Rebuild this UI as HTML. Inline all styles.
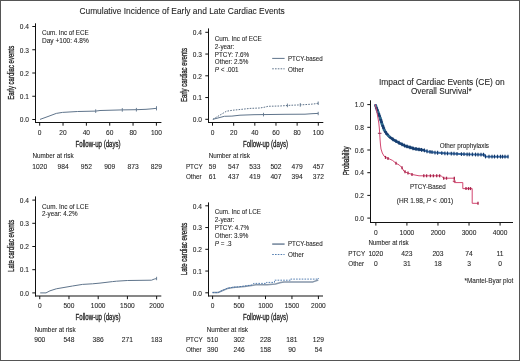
<!DOCTYPE html>
<html><head><meta charset="utf-8"><style>
html,body{margin:0;padding:0;background:#fff;}
svg{display:block;font-family:"Liberation Sans", sans-serif;will-change:transform;}
text{stroke:#222;stroke-width:0.08px;}
text.m{stroke-width:0.3px;font-weight:normal;}
</style></head><body>
<svg width="520" height="361" viewBox="0 0 520 361">
<rect x="0" y="0" width="520" height="361" fill="#fff"/>
<rect x="0.5" y="0.5" width="519" height="360" fill="none" stroke="#555" stroke-width="1"/>
<text x="79.40" y="14.00" font-size="8.4" fill="#262626" textLength="205.4" lengthAdjust="spacingAndGlyphs">Cumulative Incidence of Early and Late Cardiac Events</text>
<line x1="35.50" y1="23.30" x2="35.50" y2="123.00" stroke="#111" stroke-width="1.05"/>
<line x1="32.30" y1="119.50" x2="35.50" y2="119.50" stroke="#111" stroke-width="1.0"/>
<text x="28.90" y="122.25" font-size="6.6" fill="#262626" text-anchor="end">0.0</text>
<line x1="32.30" y1="96.25" x2="35.50" y2="96.25" stroke="#111" stroke-width="1.0"/>
<text x="28.90" y="99.00" font-size="6.6" fill="#262626" text-anchor="end">0.1</text>
<line x1="32.30" y1="73.00" x2="35.50" y2="73.00" stroke="#111" stroke-width="1.0"/>
<text x="28.90" y="75.75" font-size="6.6" fill="#262626" text-anchor="end">0.2</text>
<line x1="32.30" y1="49.75" x2="35.50" y2="49.75" stroke="#111" stroke-width="1.0"/>
<text x="28.90" y="52.50" font-size="6.6" fill="#262626" text-anchor="end">0.3</text>
<line x1="32.30" y1="26.50" x2="35.50" y2="26.50" stroke="#111" stroke-width="1.0"/>
<text x="28.90" y="29.25" font-size="6.6" fill="#262626" text-anchor="end">0.4</text>
<line x1="35.00" y1="122.50" x2="161.40" y2="122.50" stroke="#111" stroke-width="1.05"/>
<line x1="39.70" y1="122.50" x2="39.70" y2="125.70" stroke="#111" stroke-width="1.0"/>
<text x="39.70" y="135.00" font-size="6.6" fill="#262626" text-anchor="middle">0</text>
<line x1="63.04" y1="122.50" x2="63.04" y2="125.70" stroke="#111" stroke-width="1.0"/>
<text x="63.04" y="135.00" font-size="6.6" fill="#262626" text-anchor="middle">20</text>
<line x1="86.38" y1="122.50" x2="86.38" y2="125.70" stroke="#111" stroke-width="1.0"/>
<text x="86.38" y="135.00" font-size="6.6" fill="#262626" text-anchor="middle">40</text>
<line x1="109.72" y1="122.50" x2="109.72" y2="125.70" stroke="#111" stroke-width="1.0"/>
<text x="109.72" y="135.00" font-size="6.6" fill="#262626" text-anchor="middle">60</text>
<line x1="133.06" y1="122.50" x2="133.06" y2="125.70" stroke="#111" stroke-width="1.0"/>
<text x="133.06" y="135.00" font-size="6.6" fill="#262626" text-anchor="middle">80</text>
<line x1="156.40" y1="122.50" x2="156.40" y2="125.70" stroke="#111" stroke-width="1.0"/>
<text x="156.40" y="135.00" font-size="6.6" fill="#262626" text-anchor="middle">100</text>
<text x="42.00" y="35.00" font-size="6.3" fill="#262626" textLength="46.7" lengthAdjust="spacingAndGlyphs">Cum. Inc of ECE</text>
<text x="42.00" y="42.80" font-size="6.3" fill="#262626" textLength="46.7" lengthAdjust="spacingAndGlyphs">Day +100: 4.8%</text>
<text x="98.05" y="147.00" font-size="8.6" fill="#262626" text-anchor="middle" textLength="45" lengthAdjust="spacingAndGlyphs" class="m">Follow-up (days)</text>
<text x="32.40" y="158.20" font-size="6.3" fill="#262626" textLength="41.2" lengthAdjust="spacingAndGlyphs">Number at risk</text>
<text x="39.70" y="168.70" font-size="6.7" fill="#262626" text-anchor="middle">1020</text>
<text x="63.04" y="168.70" font-size="6.7" fill="#262626" text-anchor="middle">984</text>
<text x="86.38" y="168.70" font-size="6.7" fill="#262626" text-anchor="middle">952</text>
<text x="109.72" y="168.70" font-size="6.7" fill="#262626" text-anchor="middle">909</text>
<text x="133.06" y="168.70" font-size="6.7" fill="#262626" text-anchor="middle">873</text>
<text x="156.40" y="168.70" font-size="6.7" fill="#262626" text-anchor="middle">829</text>
<text class="m" transform="translate(13.7,72.75) rotate(-90)" font-size="8.4" fill="#262626" text-anchor="middle" textLength="54" lengthAdjust="spacingAndGlyphs">Early cardiac events</text>
<path d="M40.00,119.40 L48.00,116.50 L56.30,113.40 L62.50,112.40 L77.50,111.50 L95.70,111.10 L100.00,110.50 L122.30,109.90 L136.40,109.70 L146.00,109.30 L152.00,108.80 L156.50,108.30" fill="none" stroke="#5f748b" stroke-width="1.0" stroke-linejoin="round"/>
<line x1="95.70" y1="109.30" x2="95.70" y2="112.90" stroke="#5f748b" stroke-width="0.9"/>
<line x1="122.30" y1="108.10" x2="122.30" y2="111.70" stroke="#5f748b" stroke-width="0.9"/>
<line x1="136.40" y1="107.90" x2="136.40" y2="111.50" stroke="#5f748b" stroke-width="0.9"/>
<line x1="156.50" y1="106.20" x2="156.50" y2="110.40" stroke="#5f748b" stroke-width="0.9"/>
<line x1="208.50" y1="28.40" x2="208.50" y2="123.00" stroke="#111" stroke-width="1.05"/>
<line x1="205.30" y1="119.30" x2="208.50" y2="119.30" stroke="#111" stroke-width="1.0"/>
<text x="201.90" y="122.05" font-size="6.6" fill="#262626" text-anchor="end">0.0</text>
<line x1="205.30" y1="97.55" x2="208.50" y2="97.55" stroke="#111" stroke-width="1.0"/>
<text x="201.90" y="100.30" font-size="6.6" fill="#262626" text-anchor="end">0.1</text>
<line x1="205.30" y1="75.80" x2="208.50" y2="75.80" stroke="#111" stroke-width="1.0"/>
<text x="201.90" y="78.55" font-size="6.6" fill="#262626" text-anchor="end">0.2</text>
<line x1="205.30" y1="54.05" x2="208.50" y2="54.05" stroke="#111" stroke-width="1.0"/>
<text x="201.90" y="56.80" font-size="6.6" fill="#262626" text-anchor="end">0.3</text>
<line x1="205.30" y1="32.30" x2="208.50" y2="32.30" stroke="#111" stroke-width="1.0"/>
<text x="201.90" y="35.05" font-size="6.6" fill="#262626" text-anchor="end">0.4</text>
<line x1="208.00" y1="122.50" x2="323.30" y2="122.50" stroke="#111" stroke-width="1.05"/>
<line x1="212.50" y1="122.50" x2="212.50" y2="125.70" stroke="#111" stroke-width="1.0"/>
<text x="212.50" y="134.70" font-size="6.6" fill="#262626" text-anchor="middle">0</text>
<line x1="233.66" y1="122.50" x2="233.66" y2="125.70" stroke="#111" stroke-width="1.0"/>
<text x="233.66" y="134.70" font-size="6.6" fill="#262626" text-anchor="middle">20</text>
<line x1="254.82" y1="122.50" x2="254.82" y2="125.70" stroke="#111" stroke-width="1.0"/>
<text x="254.82" y="134.70" font-size="6.6" fill="#262626" text-anchor="middle">40</text>
<line x1="275.98" y1="122.50" x2="275.98" y2="125.70" stroke="#111" stroke-width="1.0"/>
<text x="275.98" y="134.70" font-size="6.6" fill="#262626" text-anchor="middle">60</text>
<line x1="297.14" y1="122.50" x2="297.14" y2="125.70" stroke="#111" stroke-width="1.0"/>
<text x="297.14" y="134.70" font-size="6.6" fill="#262626" text-anchor="middle">80</text>
<line x1="318.30" y1="122.50" x2="318.30" y2="125.70" stroke="#111" stroke-width="1.0"/>
<text x="318.30" y="134.70" font-size="6.6" fill="#262626" text-anchor="middle">100</text>
<text x="214.80" y="41.00" font-size="6.3" fill="#262626">Cum. Inc of ECE</text>
<text x="214.80" y="48.75" font-size="6.3" fill="#262626">2-year:</text>
<text x="214.80" y="56.50" font-size="6.3" fill="#262626">PTCY: 7.6%</text>
<text x="214.80" y="64.25" font-size="6.3" fill="#262626">Other: 2.5%</text>
<text x="214.8" y="72.00" font-size="6.3" fill="#262626"><tspan font-style="italic">P</tspan> &lt; .001</text>
<text x="288.00" y="60.60" font-size="6.3" fill="#262626" textLength="34.7" lengthAdjust="spacingAndGlyphs">PTCY-based</text>
<text x="288.00" y="71.60" font-size="6.3" fill="#262626">Other</text>
<line x1="272.20" y1="58.40" x2="284.60" y2="58.40" stroke="#5f748b" stroke-width="1"/>
<line x1="272.20" y1="68.80" x2="284.60" y2="68.80" stroke="#5f748b" stroke-width="1" stroke-dasharray="1.6,1.2"/>
<text x="265.50" y="146.90" font-size="8.6" fill="#262626" text-anchor="middle" textLength="45" lengthAdjust="spacingAndGlyphs" class="m">Follow-up (days)</text>
<text x="208.70" y="158.20" font-size="6.3" fill="#262626" textLength="41.2" lengthAdjust="spacingAndGlyphs">Number at risk</text>
<text x="185.90" y="168.60" font-size="6.3" fill="#262626">PTCY</text>
<text x="185.90" y="179.00" font-size="6.3" fill="#262626">Other</text>
<text x="212.50" y="168.60" font-size="6.7" fill="#262626" text-anchor="middle">59</text>
<text x="212.50" y="179.00" font-size="6.7" fill="#262626" text-anchor="middle">61</text>
<text x="233.66" y="168.60" font-size="6.7" fill="#262626" text-anchor="middle">547</text>
<text x="233.66" y="179.00" font-size="6.7" fill="#262626" text-anchor="middle">437</text>
<text x="254.82" y="168.60" font-size="6.7" fill="#262626" text-anchor="middle">533</text>
<text x="254.82" y="179.00" font-size="6.7" fill="#262626" text-anchor="middle">419</text>
<text x="275.98" y="168.60" font-size="6.7" fill="#262626" text-anchor="middle">502</text>
<text x="275.98" y="179.00" font-size="6.7" fill="#262626" text-anchor="middle">407</text>
<text x="297.14" y="168.60" font-size="6.7" fill="#262626" text-anchor="middle">479</text>
<text x="297.14" y="179.00" font-size="6.7" fill="#262626" text-anchor="middle">394</text>
<text x="318.30" y="168.60" font-size="6.7" fill="#262626" text-anchor="middle">457</text>
<text x="318.30" y="179.00" font-size="6.7" fill="#262626" text-anchor="middle">372</text>
<text class="m" transform="translate(186.9,75.05) rotate(-90)" font-size="8.4" fill="#262626" text-anchor="middle" textLength="54" lengthAdjust="spacingAndGlyphs">Early cardiac events</text>
<path d="M212.90,119.30 L224.40,116.30 L231.90,116.10 L240.00,115.20 L254.00,114.70 L270.00,114.50 L285.00,114.30 L305.00,114.20 L312.00,113.70 L318.20,113.40" fill="none" stroke="#5f748b" stroke-width="1.0" stroke-linejoin="round"/>
<path d="M212.90,119.30 L226.50,111.20 L233.10,110.20 L240.00,109.50 L250.00,108.40 L260.00,108.00 L265.00,107.10 L268.00,106.30 L280.00,106.00 L290.00,105.30 L300.00,104.90 L310.00,104.30 L315.00,103.80 L318.20,103.20" fill="none" stroke="#5f748b" stroke-width="1.0" stroke-linejoin="round" stroke-dasharray="1.6,1.2"/>
<line x1="263.50" y1="112.80" x2="263.50" y2="116.40" stroke="#5f748b" stroke-width="0.9"/>
<line x1="287.40" y1="103.60" x2="287.40" y2="107.20" stroke="#5f748b" stroke-width="0.9"/>
<line x1="300.30" y1="103.10" x2="300.30" y2="106.70" stroke="#5f748b" stroke-width="0.9"/>
<line x1="318.20" y1="101.50" x2="318.20" y2="105.00" stroke="#5f748b" stroke-width="0.9"/>
<line x1="318.20" y1="111.80" x2="318.20" y2="115.20" stroke="#5f748b" stroke-width="0.9"/>
<line x1="35.50" y1="196.40" x2="35.50" y2="296.50" stroke="#111" stroke-width="1.05"/>
<line x1="32.30" y1="292.90" x2="35.50" y2="292.90" stroke="#111" stroke-width="1.0"/>
<text x="28.90" y="295.65" font-size="6.6" fill="#262626" text-anchor="end">0.0</text>
<line x1="32.30" y1="269.70" x2="35.50" y2="269.70" stroke="#111" stroke-width="1.0"/>
<text x="28.90" y="272.45" font-size="6.6" fill="#262626" text-anchor="end">0.1</text>
<line x1="32.30" y1="246.50" x2="35.50" y2="246.50" stroke="#111" stroke-width="1.0"/>
<text x="28.90" y="249.25" font-size="6.6" fill="#262626" text-anchor="end">0.2</text>
<line x1="32.30" y1="223.30" x2="35.50" y2="223.30" stroke="#111" stroke-width="1.0"/>
<text x="28.90" y="226.05" font-size="6.6" fill="#262626" text-anchor="end">0.3</text>
<line x1="32.30" y1="200.10" x2="35.50" y2="200.10" stroke="#111" stroke-width="1.0"/>
<text x="28.90" y="202.85" font-size="6.6" fill="#262626" text-anchor="end">0.4</text>
<line x1="35.00" y1="296.00" x2="161.30" y2="296.00" stroke="#111" stroke-width="1.05"/>
<line x1="39.75" y1="296.00" x2="39.75" y2="299.20" stroke="#111" stroke-width="1.0"/>
<text x="39.75" y="307.90" font-size="6.6" fill="#262626" text-anchor="middle">0</text>
<line x1="68.97" y1="296.00" x2="68.97" y2="299.20" stroke="#111" stroke-width="1.0"/>
<text x="68.97" y="307.90" font-size="6.6" fill="#262626" text-anchor="middle">500</text>
<line x1="98.20" y1="296.00" x2="98.20" y2="299.20" stroke="#111" stroke-width="1.0"/>
<text x="98.20" y="307.90" font-size="6.6" fill="#262626" text-anchor="middle">1000</text>
<line x1="127.42" y1="296.00" x2="127.42" y2="299.20" stroke="#111" stroke-width="1.0"/>
<text x="127.42" y="307.90" font-size="6.6" fill="#262626" text-anchor="middle">1500</text>
<line x1="156.65" y1="296.00" x2="156.65" y2="299.20" stroke="#111" stroke-width="1.0"/>
<text x="156.65" y="307.90" font-size="6.6" fill="#262626" text-anchor="middle">2000</text>
<text x="42.00" y="208.50" font-size="6.3" fill="#262626" textLength="46.7" lengthAdjust="spacingAndGlyphs">Cum. Inc of LCE</text>
<text x="42.00" y="215.80" font-size="6.3" fill="#262626">2-year: 4.2%</text>
<text x="98.05" y="319.90" font-size="8.6" fill="#262626" text-anchor="middle" textLength="45" lengthAdjust="spacingAndGlyphs" class="m">Follow-up (days)</text>
<text x="34.50" y="331.60" font-size="6.3" fill="#262626" textLength="41.2" lengthAdjust="spacingAndGlyphs">Number at risk</text>
<text x="39.75" y="341.80" font-size="6.7" fill="#262626" text-anchor="middle">900</text>
<text x="68.97" y="341.80" font-size="6.7" fill="#262626" text-anchor="middle">548</text>
<text x="98.20" y="341.80" font-size="6.7" fill="#262626" text-anchor="middle">386</text>
<text x="127.42" y="341.80" font-size="6.7" fill="#262626" text-anchor="middle">271</text>
<text x="156.65" y="341.80" font-size="6.7" fill="#262626" text-anchor="middle">183</text>
<text class="m" transform="translate(13.7,245.8) rotate(-90)" font-size="8.4" fill="#262626" text-anchor="middle" textLength="52.2" lengthAdjust="spacingAndGlyphs">Late cardiac events</text>
<path d="M40.20,292.90 L46.00,292.90 L50.00,290.80 L56.30,288.80 L65.00,287.30 L72.50,286.00 L82.50,284.40 L92.50,283.80 L100.00,283.10 L112.50,281.60 L116.50,281.20 L127.30,280.50 L151.50,280.20 L154.20,279.10 L156.60,278.50" fill="none" stroke="#5f748b" stroke-width="1.0" stroke-linejoin="round"/>
<line x1="156.60" y1="276.80" x2="156.60" y2="280.20" stroke="#5f748b" stroke-width="0.9"/>
<line x1="208.50" y1="202.40" x2="208.50" y2="296.40" stroke="#111" stroke-width="1.05"/>
<line x1="205.30" y1="292.80" x2="208.50" y2="292.80" stroke="#111" stroke-width="1.0"/>
<text x="201.90" y="295.55" font-size="6.6" fill="#262626" text-anchor="end">0.0</text>
<line x1="205.30" y1="271.05" x2="208.50" y2="271.05" stroke="#111" stroke-width="1.0"/>
<text x="201.90" y="273.80" font-size="6.6" fill="#262626" text-anchor="end">0.1</text>
<line x1="205.30" y1="249.30" x2="208.50" y2="249.30" stroke="#111" stroke-width="1.0"/>
<text x="201.90" y="252.05" font-size="6.6" fill="#262626" text-anchor="end">0.2</text>
<line x1="205.30" y1="227.55" x2="208.50" y2="227.55" stroke="#111" stroke-width="1.0"/>
<text x="201.90" y="230.30" font-size="6.6" fill="#262626" text-anchor="end">0.3</text>
<line x1="205.30" y1="205.80" x2="208.50" y2="205.80" stroke="#111" stroke-width="1.0"/>
<text x="201.90" y="208.55" font-size="6.6" fill="#262626" text-anchor="end">0.4</text>
<line x1="208.00" y1="295.90" x2="323.00" y2="295.90" stroke="#111" stroke-width="1.05"/>
<line x1="212.60" y1="295.90" x2="212.60" y2="299.10" stroke="#111" stroke-width="1.0"/>
<text x="212.60" y="308.00" font-size="6.6" fill="#262626" text-anchor="middle">0</text>
<line x1="239.05" y1="295.90" x2="239.05" y2="299.10" stroke="#111" stroke-width="1.0"/>
<text x="239.05" y="308.00" font-size="6.6" fill="#262626" text-anchor="middle">500</text>
<line x1="265.50" y1="295.90" x2="265.50" y2="299.10" stroke="#111" stroke-width="1.0"/>
<text x="265.50" y="308.00" font-size="6.6" fill="#262626" text-anchor="middle">1000</text>
<line x1="291.95" y1="295.90" x2="291.95" y2="299.10" stroke="#111" stroke-width="1.0"/>
<text x="291.95" y="308.00" font-size="6.6" fill="#262626" text-anchor="middle">1500</text>
<line x1="318.40" y1="295.90" x2="318.40" y2="299.10" stroke="#111" stroke-width="1.0"/>
<text x="318.40" y="308.00" font-size="6.6" fill="#262626" text-anchor="middle">2000</text>
<text x="214.80" y="214.40" font-size="6.3" fill="#262626">Cum. Inc of LCE</text>
<text x="214.80" y="222.20" font-size="6.3" fill="#262626">2-year:</text>
<text x="214.80" y="230.00" font-size="6.3" fill="#262626">PTCY: 4.7%</text>
<text x="214.80" y="237.80" font-size="6.3" fill="#262626">Other: 3.9%</text>
<text x="214.8" y="245.90" font-size="6.3" fill="#262626"><tspan font-style="italic">P</tspan> = .3</text>
<line x1="272.20" y1="244.10" x2="284.60" y2="244.10" stroke="#8797aa" stroke-width="1.8"/>
<line x1="272.20" y1="254.50" x2="284.60" y2="254.50" stroke="#3f6fa8" stroke-width="0.9" stroke-dasharray="1.6,1.2"/>
<text x="288.00" y="246.00" font-size="6.3" fill="#262626" textLength="34.7" lengthAdjust="spacingAndGlyphs">PTCY-based</text>
<text x="288.00" y="256.90" font-size="6.3" fill="#262626">Other</text>
<text x="265.50" y="319.80" font-size="8.6" fill="#262626" text-anchor="middle" textLength="45" lengthAdjust="spacingAndGlyphs" class="m">Follow-up (days)</text>
<text x="206.80" y="331.80" font-size="6.3" fill="#262626" textLength="41.2" lengthAdjust="spacingAndGlyphs">Number at risk</text>
<text x="185.90" y="342.20" font-size="6.3" fill="#262626">PTCY</text>
<text x="185.90" y="352.40" font-size="6.3" fill="#262626">Other</text>
<text x="212.60" y="342.20" font-size="6.7" fill="#262626" text-anchor="middle">510</text>
<text x="212.60" y="352.40" font-size="6.7" fill="#262626" text-anchor="middle">390</text>
<text x="239.05" y="342.20" font-size="6.7" fill="#262626" text-anchor="middle">302</text>
<text x="239.05" y="352.40" font-size="6.7" fill="#262626" text-anchor="middle">246</text>
<text x="265.50" y="342.20" font-size="6.7" fill="#262626" text-anchor="middle">228</text>
<text x="265.50" y="352.40" font-size="6.7" fill="#262626" text-anchor="middle">158</text>
<text x="291.95" y="342.20" font-size="6.7" fill="#262626" text-anchor="middle">181</text>
<text x="291.95" y="352.40" font-size="6.7" fill="#262626" text-anchor="middle">90</text>
<text x="318.40" y="342.20" font-size="6.7" fill="#262626" text-anchor="middle">129</text>
<text x="318.40" y="352.40" font-size="6.7" fill="#262626" text-anchor="middle">54</text>
<text class="m" transform="translate(187.0,248.95) rotate(-90)" font-size="8.4" fill="#262626" text-anchor="middle" textLength="52.4" lengthAdjust="spacingAndGlyphs">Late cardiac events</text>
<path d="M212.50,292.60 L218.00,292.60 L222.00,290.80 L227.30,288.60 L233.00,287.50 L238.80,287.10 L244.60,286.40 L251.50,285.50 L256.00,284.80 L267.00,284.70 L275.40,283.90 L280.80,282.60 L284.00,281.90 L313.00,281.90 L318.30,280.00" fill="none" stroke="#8797aa" stroke-width="1.5" stroke-linejoin="round"/>
<path d="M212.50,292.60 L218.00,292.60 L222.00,290.60 L227.30,288.30 L233.00,287.20 L238.80,286.80 L244.60,286.00 L251.50,285.00 L253.80,283.40 L266.50,283.40 L266.50,282.40 L274.50,282.40 L274.50,280.20 L290.60,280.20 L290.60,279.10 L318.30,279.10 L318.30,278.00" fill="none" stroke="#3f6fa8" stroke-width="0.9" stroke-linejoin="round" stroke-dasharray="1.6,1.2"/>
<line x1="370.50" y1="100.30" x2="370.50" y2="222.90" stroke="#111" stroke-width="1.05"/>
<line x1="367.30" y1="218.10" x2="370.50" y2="218.10" stroke="#111" stroke-width="1.0"/>
<text x="363.90" y="220.85" font-size="6.6" fill="#262626" text-anchor="end">0.0</text>
<line x1="367.30" y1="195.40" x2="370.50" y2="195.40" stroke="#111" stroke-width="1.0"/>
<text x="363.90" y="198.15" font-size="6.6" fill="#262626" text-anchor="end">0.2</text>
<line x1="367.30" y1="172.70" x2="370.50" y2="172.70" stroke="#111" stroke-width="1.0"/>
<text x="363.90" y="175.45" font-size="6.6" fill="#262626" text-anchor="end">0.4</text>
<line x1="367.30" y1="150.00" x2="370.50" y2="150.00" stroke="#111" stroke-width="1.0"/>
<text x="363.90" y="152.75" font-size="6.6" fill="#262626" text-anchor="end">0.6</text>
<line x1="367.30" y1="127.30" x2="370.50" y2="127.30" stroke="#111" stroke-width="1.0"/>
<text x="363.90" y="130.05" font-size="6.6" fill="#262626" text-anchor="end">0.8</text>
<line x1="367.30" y1="104.60" x2="370.50" y2="104.60" stroke="#111" stroke-width="1.0"/>
<text x="363.90" y="107.35" font-size="6.6" fill="#262626" text-anchor="end">1.0</text>
<line x1="370.00" y1="222.40" x2="513.00" y2="222.40" stroke="#111" stroke-width="1.05"/>
<line x1="375.85" y1="222.40" x2="375.85" y2="225.60" stroke="#111" stroke-width="1.0"/>
<text x="375.85" y="234.80" font-size="6.6" fill="#262626" text-anchor="middle">0</text>
<line x1="406.91" y1="222.40" x2="406.91" y2="225.60" stroke="#111" stroke-width="1.0"/>
<text x="406.91" y="234.80" font-size="6.6" fill="#262626" text-anchor="middle">1000</text>
<line x1="437.97" y1="222.40" x2="437.97" y2="225.60" stroke="#111" stroke-width="1.0"/>
<text x="437.97" y="234.80" font-size="6.6" fill="#262626" text-anchor="middle">2000</text>
<line x1="469.03" y1="222.40" x2="469.03" y2="225.60" stroke="#111" stroke-width="1.0"/>
<text x="469.03" y="234.80" font-size="6.6" fill="#262626" text-anchor="middle">3000</text>
<line x1="500.09" y1="222.40" x2="500.09" y2="225.60" stroke="#111" stroke-width="1.0"/>
<text x="500.09" y="234.80" font-size="6.6" fill="#262626" text-anchor="middle">4000</text>
<text x="441.80" y="84.50" font-size="8.4" fill="#262626" text-anchor="middle" textLength="125.6" lengthAdjust="spacingAndGlyphs">Impact of Cardiac Events (CE) on</text>
<text x="441.30" y="94.40" font-size="8.4" fill="#262626" text-anchor="middle" textLength="60.7" lengthAdjust="spacingAndGlyphs">Overall Survival*</text>
<text class="m" transform="translate(349.2,160.8) rotate(-90)" font-size="8.4" fill="#262626" text-anchor="middle" textLength="29" lengthAdjust="spacingAndGlyphs">Probability</text>
<text x="439.70" y="148.20" font-size="6.3" fill="#262626" textLength="49.3" lengthAdjust="spacingAndGlyphs">Other prophylaxis</text>
<text x="409.90" y="189.10" font-size="6.3" fill="#262626" textLength="35.8" lengthAdjust="spacingAndGlyphs">PTCY-Based</text>
<text x="396.8" y="203.3" font-size="6.3" fill="#262626" textLength="56.5" lengthAdjust="spacingAndGlyphs">(HR 1.98, <tspan font-style="italic">P</tspan> &lt; .001)</text>
<text x="368.40" y="245.10" font-size="6.3" fill="#262626" textLength="40.3" lengthAdjust="spacingAndGlyphs">Number at risk</text>
<text x="348.30" y="255.90" font-size="6.3" fill="#262626">PTCY</text>
<text x="348.30" y="265.60" font-size="6.3" fill="#262626">Other</text>
<text x="375.85" y="255.90" font-size="6.7" fill="#262626" text-anchor="middle">1020</text>
<text x="375.85" y="265.60" font-size="6.7" fill="#262626" text-anchor="middle">0</text>
<text x="406.91" y="255.90" font-size="6.7" fill="#262626" text-anchor="middle">423</text>
<text x="406.91" y="265.60" font-size="6.7" fill="#262626" text-anchor="middle">31</text>
<text x="437.97" y="255.90" font-size="6.7" fill="#262626" text-anchor="middle">203</text>
<text x="437.97" y="265.60" font-size="6.7" fill="#262626" text-anchor="middle">18</text>
<text x="469.03" y="255.90" font-size="6.7" fill="#262626" text-anchor="middle">74</text>
<text x="469.03" y="265.60" font-size="6.7" fill="#262626" text-anchor="middle">3</text>
<text x="500.09" y="255.90" font-size="6.7" fill="#262626" text-anchor="middle">11</text>
<text x="500.09" y="265.60" font-size="6.7" fill="#262626" text-anchor="middle">0</text>
<text x="464.60" y="282.90" font-size="6.3" fill="#262626" textLength="48.7" lengthAdjust="spacingAndGlyphs">*Mantel-Byar plot</text>
<path d="M375.20,104.40 L377.60,111.00 L380.20,118.00 L382.10,124.10 L384.30,130.00 L386.50,133.60 L388.80,136.20 L392.00,138.80 L395.00,140.60 L400.00,143.30 L405.20,145.90 L410.40,147.40 L413.80,148.60 L424.20,150.30 L427.70,151.50 L434.60,152.50 L445.00,153.30 L460.00,154.00 L470.00,154.40 L484.60,154.70 L485.20,156.50 L508.50,156.70" fill="none" stroke="#3b6ca6" stroke-width="1.9" stroke-linejoin="round"/>
<path d="M375.20,104.40 L377.60,111.00 L380.20,118.00 L382.10,124.10 L384.30,130.00 L386.50,133.60 L388.80,136.20 L392.00,138.80 L395.00,140.60 L400.00,143.30 L405.20,145.90 L410.40,147.40 L413.80,148.60 L424.20,150.30" fill="none" stroke="#1a4478" stroke-width="2.6" stroke-linejoin="round"/>
<line x1="393.00" y1="137.50" x2="393.00" y2="141.30" stroke="#143a6a" stroke-width="1.1"/>
<line x1="396.00" y1="139.24" x2="396.00" y2="143.04" stroke="#143a6a" stroke-width="1.1"/>
<line x1="399.00" y1="140.86" x2="399.00" y2="144.66" stroke="#143a6a" stroke-width="1.1"/>
<line x1="402.00" y1="142.40" x2="402.00" y2="146.20" stroke="#143a6a" stroke-width="1.1"/>
<line x1="404.50" y1="143.65" x2="404.50" y2="147.45" stroke="#143a6a" stroke-width="1.1"/>
<line x1="407.00" y1="144.52" x2="407.00" y2="148.32" stroke="#143a6a" stroke-width="1.1"/>
<line x1="410.00" y1="145.38" x2="410.00" y2="149.18" stroke="#143a6a" stroke-width="1.1"/>
<line x1="413.00" y1="146.42" x2="413.00" y2="150.22" stroke="#143a6a" stroke-width="1.1"/>
<line x1="416.00" y1="147.06" x2="416.00" y2="150.86" stroke="#143a6a" stroke-width="1.1"/>
<line x1="419.00" y1="147.55" x2="419.00" y2="151.35" stroke="#143a6a" stroke-width="1.1"/>
<line x1="421.50" y1="147.96" x2="421.50" y2="151.76" stroke="#143a6a" stroke-width="1.1"/>
<line x1="424.50" y1="148.50" x2="424.50" y2="152.30" stroke="#143a6a" stroke-width="1.1"/>
<line x1="427.00" y1="149.36" x2="427.00" y2="153.16" stroke="#143a6a" stroke-width="1.1"/>
<line x1="430.00" y1="149.93" x2="430.00" y2="153.73" stroke="#143a6a" stroke-width="1.1"/>
<line x1="432.00" y1="150.22" x2="432.00" y2="154.02" stroke="#143a6a" stroke-width="1.1"/>
<line x1="435.00" y1="150.63" x2="435.00" y2="154.43" stroke="#143a6a" stroke-width="1.1"/>
<line x1="437.60" y1="150.83" x2="437.60" y2="154.63" stroke="#143a6a" stroke-width="1.1"/>
<line x1="441.80" y1="151.15" x2="441.80" y2="154.95" stroke="#143a6a" stroke-width="1.1"/>
<line x1="444.90" y1="151.39" x2="444.90" y2="155.19" stroke="#143a6a" stroke-width="1.1"/>
<line x1="447.50" y1="151.52" x2="447.50" y2="155.32" stroke="#143a6a" stroke-width="1.1"/>
<line x1="451.30" y1="151.69" x2="451.30" y2="155.49" stroke="#143a6a" stroke-width="1.1"/>
<line x1="454.00" y1="151.82" x2="454.00" y2="155.62" stroke="#143a6a" stroke-width="1.1"/>
<line x1="457.00" y1="151.96" x2="457.00" y2="155.76" stroke="#143a6a" stroke-width="1.1"/>
<line x1="461.40" y1="152.16" x2="461.40" y2="155.96" stroke="#143a6a" stroke-width="1.1"/>
<line x1="464.00" y1="152.26" x2="464.00" y2="156.06" stroke="#143a6a" stroke-width="1.1"/>
<line x1="467.10" y1="152.38" x2="467.10" y2="156.18" stroke="#143a6a" stroke-width="1.1"/>
<line x1="469.30" y1="152.47" x2="469.30" y2="156.27" stroke="#143a6a" stroke-width="1.1"/>
<line x1="472.40" y1="152.55" x2="472.40" y2="156.35" stroke="#143a6a" stroke-width="1.1"/>
<line x1="475.50" y1="152.61" x2="475.50" y2="156.41" stroke="#143a6a" stroke-width="1.1"/>
<line x1="478.00" y1="152.66" x2="478.00" y2="156.46" stroke="#143a6a" stroke-width="1.1"/>
<line x1="481.00" y1="152.73" x2="481.00" y2="156.53" stroke="#143a6a" stroke-width="1.1"/>
<line x1="483.50" y1="152.78" x2="483.50" y2="156.58" stroke="#143a6a" stroke-width="1.1"/>
<line x1="485.50" y1="154.60" x2="485.50" y2="158.40" stroke="#143a6a" stroke-width="1.1"/>
<line x1="489.00" y1="154.63" x2="489.00" y2="158.43" stroke="#143a6a" stroke-width="1.1"/>
<line x1="492.00" y1="154.66" x2="492.00" y2="158.46" stroke="#143a6a" stroke-width="1.1"/>
<line x1="494.50" y1="154.68" x2="494.50" y2="158.48" stroke="#143a6a" stroke-width="1.1"/>
<line x1="497.50" y1="154.71" x2="497.50" y2="158.51" stroke="#143a6a" stroke-width="1.1"/>
<line x1="500.50" y1="154.73" x2="500.50" y2="158.53" stroke="#143a6a" stroke-width="1.1"/>
<line x1="502.50" y1="154.75" x2="502.50" y2="158.55" stroke="#143a6a" stroke-width="1.1"/>
<line x1="505.00" y1="154.77" x2="505.00" y2="158.57" stroke="#143a6a" stroke-width="1.1"/>
<line x1="508.00" y1="154.80" x2="508.00" y2="158.60" stroke="#143a6a" stroke-width="1.1"/>
<line x1="374.18" y1="106.00" x2="377.38" y2="106.00" stroke="#3f8a9c" stroke-width="1.0"/>
<line x1="374.91" y1="108.00" x2="378.11" y2="108.00" stroke="#143a6a" stroke-width="1.0"/>
<line x1="375.64" y1="110.00" x2="378.84" y2="110.00" stroke="#143a6a" stroke-width="1.0"/>
<line x1="376.37" y1="112.00" x2="379.57" y2="112.00" stroke="#3f8a9c" stroke-width="1.0"/>
<line x1="377.11" y1="114.00" x2="380.31" y2="114.00" stroke="#143a6a" stroke-width="1.0"/>
<line x1="377.86" y1="116.00" x2="381.06" y2="116.00" stroke="#143a6a" stroke-width="1.0"/>
<line x1="378.60" y1="118.00" x2="381.80" y2="118.00" stroke="#3f8a9c" stroke-width="1.0"/>
<line x1="379.22" y1="120.00" x2="382.42" y2="120.00" stroke="#143a6a" stroke-width="1.0"/>
<line x1="379.85" y1="122.00" x2="383.05" y2="122.00" stroke="#143a6a" stroke-width="1.0"/>
<line x1="380.47" y1="124.00" x2="383.67" y2="124.00" stroke="#3f8a9c" stroke-width="1.0"/>
<line x1="381.21" y1="126.00" x2="384.41" y2="126.00" stroke="#143a6a" stroke-width="1.0"/>
<line x1="381.95" y1="128.00" x2="385.15" y2="128.00" stroke="#143a6a" stroke-width="1.0"/>
<line x1="382.70" y1="130.00" x2="385.90" y2="130.00" stroke="#3f8a9c" stroke-width="1.0"/>
<line x1="383.92" y1="132.00" x2="387.12" y2="132.00" stroke="#143a6a" stroke-width="1.0"/>
<line x1="385.25" y1="134.00" x2="388.45" y2="134.00" stroke="#143a6a" stroke-width="1.0"/>
<line x1="387.02" y1="136.00" x2="390.22" y2="136.00" stroke="#3f8a9c" stroke-width="1.0"/>
<line x1="389.42" y1="138.00" x2="392.62" y2="138.00" stroke="#143a6a" stroke-width="1.0"/>
<path d="M375.20,104.40 L376.50,110.00 L377.80,117.00 L378.80,123.00 L379.30,128.00 L379.70,133.30 L380.10,140.00 L380.50,145.00 L381.00,149.00 L382.30,153.00 L384.00,156.00 L385.50,157.40 L389.30,158.90 L392.70,160.50 L396.00,163.30 L399.30,165.00 L402.10,167.80 L403.80,171.10 L407.10,172.80 L412.70,174.60 L419.00,175.80 L441.30,175.80 L443.50,178.20 L454.30,178.20 L454.30,182.60 L462.80,182.60 L462.80,188.60 L472.20,188.60 L472.20,203.30 L478.30,203.30" fill="none" stroke="#d24670" stroke-width="1.0" stroke-linejoin="round"/>
<line x1="385.50" y1="155.90" x2="385.50" y2="158.90" stroke="#a82249" stroke-width="1.3"/>
<line x1="388.00" y1="156.89" x2="388.00" y2="159.89" stroke="#a82249" stroke-width="1.3"/>
<line x1="396.00" y1="161.80" x2="396.00" y2="164.80" stroke="#a82249" stroke-width="1.3"/>
<line x1="402.00" y1="166.20" x2="402.00" y2="169.20" stroke="#a82249" stroke-width="1.3"/>
<line x1="405.00" y1="170.22" x2="405.00" y2="173.22" stroke="#a82249" stroke-width="1.3"/>
<line x1="408.00" y1="171.59" x2="408.00" y2="174.59" stroke="#a82249" stroke-width="1.3"/>
<line x1="412.00" y1="172.88" x2="412.00" y2="175.88" stroke="#a82249" stroke-width="1.3"/>
<line x1="423.80" y1="174.30" x2="423.80" y2="177.30" stroke="#a82249" stroke-width="1.3"/>
<line x1="426.60" y1="174.30" x2="426.60" y2="177.30" stroke="#a82249" stroke-width="1.3"/>
<line x1="430.40" y1="174.30" x2="430.40" y2="177.30" stroke="#a82249" stroke-width="1.3"/>
<line x1="433.40" y1="174.30" x2="433.40" y2="177.30" stroke="#a82249" stroke-width="1.3"/>
<line x1="436.70" y1="174.30" x2="436.70" y2="177.30" stroke="#a82249" stroke-width="1.3"/>
<line x1="439.60" y1="174.30" x2="439.60" y2="177.30" stroke="#a82249" stroke-width="1.3"/>
<line x1="443.70" y1="176.70" x2="443.70" y2="179.70" stroke="#a82249" stroke-width="1.3"/>
<line x1="446.50" y1="176.70" x2="446.50" y2="179.70" stroke="#a82249" stroke-width="1.3"/>
<line x1="454.30" y1="176.70" x2="454.30" y2="179.70" stroke="#a82249" stroke-width="1.3"/>
<line x1="466.00" y1="187.10" x2="466.00" y2="190.10" stroke="#a82249" stroke-width="1.3"/>
<line x1="468.50" y1="187.10" x2="468.50" y2="190.10" stroke="#a82249" stroke-width="1.3"/>
<line x1="470.50" y1="187.10" x2="470.50" y2="190.10" stroke="#a82249" stroke-width="1.3"/>
<line x1="478.00" y1="201.80" x2="478.00" y2="204.80" stroke="#a82249" stroke-width="1.3"/>
<line x1="377.90" y1="133.30" x2="381.50" y2="133.30" stroke="#8a2a4c" stroke-width="1.0"/>
<line x1="452.80" y1="181.20" x2="455.80" y2="181.20" stroke="#a82249" stroke-width="1.0"/>
</svg>
</body></html>
